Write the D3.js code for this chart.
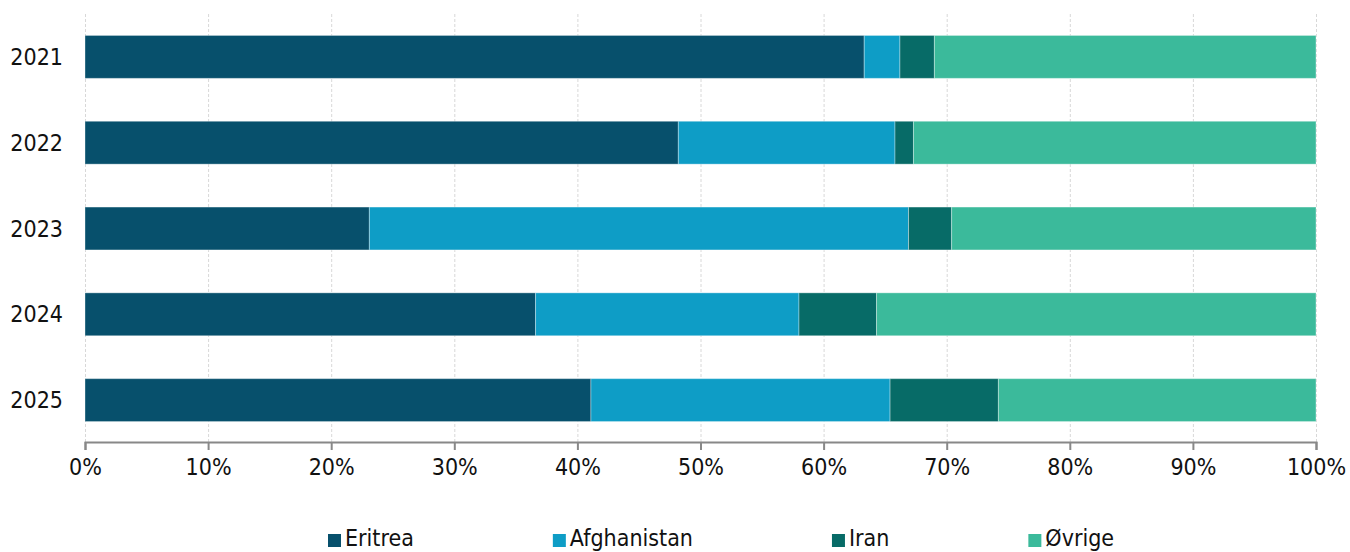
<!DOCTYPE html>
<html><head><meta charset="utf-8">
<script src="https://cdn.jsdelivr.net/npm/d3@7"></script>
<style>
html,body{margin:0;padding:0;background:#fff;}
svg text{font-family:"DejaVu Sans Condensed","DejaVu Sans",sans-serif;fill:#111;}
</style></head>
<body>
<svg id="chart" width="1350" height="552"></svg>
<script>
const years = ["2021","2022","2023","2024","2025"];
const seriesNames = ["Eritrea","Afghanistan","Iran","Øvrige"];
const eritrea     = [63.3, 48.2, 23.1, 36.6, 41.1];
const afghanistan = [2.9, 17.6, 43.8, 21.4, 24.3];
const iran        = [2.8, 1.5, 3.5, 6.3, 8.8];
const ovrige      = [31.0, 32.7, 29.6, 35.7, 25.8];
const xTicks = [0,10,20,30,40,50,60,70,80,90,100];
const colors = ["#07506c","#0e9dc6","#076b67","#3bba9b"];

const rows = years.map((y,i)=>({year:y, Eritrea:eritrea[i], Afghanistan:afghanistan[i], Iran:iran[i], "Øvrige":ovrige[i]}));
const stack = d3.stack().keys(seriesNames)(rows);

const svg = d3.select("#chart");
const x = d3.scaleLinear().domain([0,100]).range([85,1316]);
const y = d3.scaleBand().domain(years).range([14,443]).paddingInner(0.5).paddingOuter(0.25);
const color = d3.scaleOrdinal().domain(seriesNames).range(colors);

// gridlines
svg.append("g").selectAll("line").data(xTicks).join("line")
  .attr("x1",d=>x(d)+0.5).attr("x2",d=>x(d)+0.5)
  .attr("y1",14).attr("y2",442)
  .attr("stroke","#d8d8d8").attr("stroke-width",1).attr("stroke-dasharray","3,2");

// bars
svg.append("g").selectAll("g").data(stack).join("g")
  .attr("fill",d=>color(d.key))
  .selectAll("rect").data(d=>d).join("rect")
  .attr("x",d=>x(d[0])).attr("width",d=>x(d[1])-x(d[0]))
  .attr("y",d=>y(d.data.year)).attr("height",y.bandwidth())
  .attr("stroke","rgba(255,255,255,0.35)").attr("stroke-width",1);

// x axis
const xAxis = svg.append("g").attr("transform","translate(0,442)")
  .call(d3.axisBottom(x).tickValues(xTicks).tickFormat(d=>d+"%").tickSize(8).tickPadding(9));
xAxis.select(".domain").attr("stroke","#888").attr("stroke-width",2);
xAxis.selectAll(".tick line").attr("stroke","#888").attr("stroke-width",2);
xAxis.selectAll(".tick text").style("font-size","23px").style("font-family","DejaVu Sans Condensed").attr("fill","#111");

// y labels
svg.append("g").selectAll("text").data(years).join("text")
  .attr("x",63).attr("y",d=>y(d)+y.bandwidth()/2)
  .attr("text-anchor","end").attr("dominant-baseline","central")
  .style("font-size","23px").text(d=>d);

// legend
const legend = svg.append("g");
let lx = 328;
seriesNames.forEach((name,i)=>{
  const g = legend.append("g").attr("transform",`translate(${lx},0)`);
  g.append("rect").attr("x",0).attr("y",534).attr("width",13).attr("height",13).attr("fill",colors[i]);
  const t = g.append("text").attr("x",17).attr("y",546).style("font-size","23px").text(name);
  const w = t.node().getComputedTextLength();
  lx += 17 + w + 139;
});
</script>
</body></html>
